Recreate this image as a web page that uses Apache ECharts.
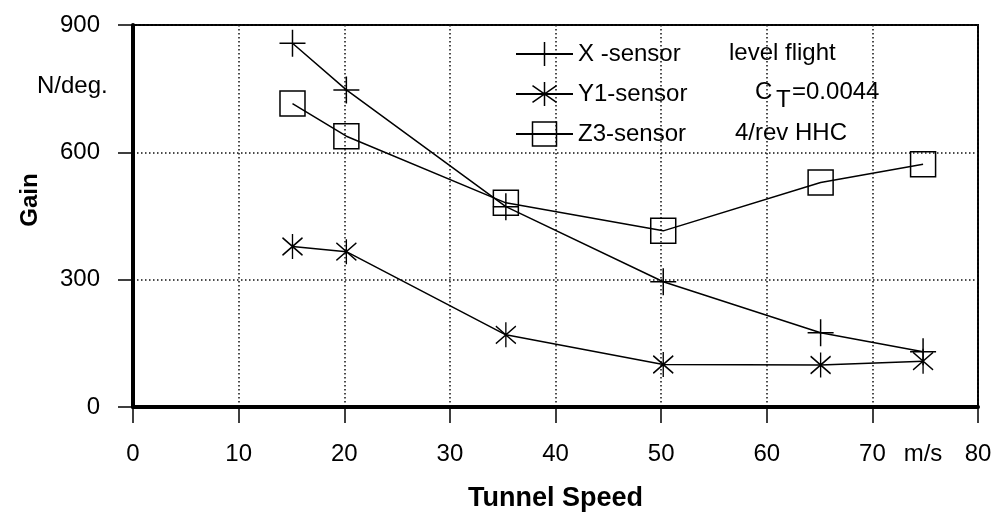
<!DOCTYPE html>
<html>
<head>
<meta charset="utf-8">
<script src="https://cdn.jsdelivr.net/npm/echarts@6/dist/echarts.min.js"></script>
<style>
  html, body { margin: 0; padding: 0; background: #fff; }
  #chart { width: 1000px; height: 517px; }
</style>
</head>
<body>
<div id="chart"></div>
<script>
// tunnel speed, m/s
const speeds = [15.1, 20.2, 35.3, 50.2, 65.1, 74.8]
// gain, N/deg.
const xSensor = [857, 747, 472, 295, 175, 130]
const y1Sensor = [378, 366, 170, 100, 99, 108]
const z3Sensor = [715, 638, 481, 415, 529, 572]

const xRange = [0, 80, 10]
const yRange = [0, 900, 300]

const FONT = '"Liberation Sans", Arial, sans-serif'

const PLUS = 'path://M0,-10L0,10M-10,0L10,0'
const STAR = 'path://M0,-10L0,10M-7,-7L7,7M-7,7L7,-7'

function pairs(values) {
  return speeds.map((s, i) => [s, values[i]])
}

function sensor(name, values, symbol, size) {
  return {
    name: name,
    type: 'line',
    data: pairs(values),
    symbol: symbol,
    symbolSize: size,
    lineStyle: { color: '#000', width: 1.5 },
    itemStyle: { color: 'rgba(0,0,0,0)', borderColor: '#000', borderWidth: 1.5 },
    emphasis: { disabled: true },
    animation: false
  }
}

var chart = echarts.init(document.getElementById('chart'))

var dotted = { color: '#111', width: 1.5, type: [1.5, 2.5] }

chart.setOption({
  backgroundColor: '#fff',
  textStyle: { fontFamily: FONT },
  grid: {
    left: 133, right: 22, top: 25, bottom: 110,
    show: true, borderColor: '#000', borderWidth: 2
  },
  legend: {
    orient: 'vertical',
    left: 510, top: 34,
    itemWidth: 57, itemHeight: 30, itemGap: 10,
    textStyle: { fontFamily: FONT, fontSize: 24, color: '#000', lineHeight: 30 },
    itemStyle: { borderColor: '#000', borderWidth: 1.5 },
    selectedMode: false,
    data: ['X -sensor', 'Y1-sensor', 'Z3-sensor']
  },
  xAxis: {
    type: 'value',
    min: xRange[0], max: xRange[1], interval: xRange[2],
    axisLine: { lineStyle: { color: '#000', width: 4 } },
    axisTick: { length: 16, lineStyle: { color: '#000', width: 1.5 } },
    axisLabel: { fontSize: 24, color: '#000', margin: 35, fontFamily: FONT },
    splitLine: { show: true, lineStyle: dotted },
    name: 'Tunnel Speed',
    nameLocation: 'middle',
    nameGap: 78,
    nameTextStyle: { fontSize: 27, fontWeight: 'bold', color: '#000', fontFamily: FONT }
  },
  yAxis: {
    type: 'value',
    min: yRange[0], max: yRange[1], interval: yRange[2],
    axisLine: { show: true, lineStyle: { color: '#000', width: 4 } },
    axisTick: { show: true, length: 15, lineStyle: { color: '#000', width: 1.5 } },
    axisLabel: { fontSize: 24, color: '#000', margin: 33, padding: [0, 0, 16, 0], fontFamily: FONT },
    splitLine: { show: true, lineStyle: dotted }
  },
  graphic: [
    { type: 'text', left: 37, top: 74, style: { text: 'N/deg.', font: '24px ' + FONT, fill: '#000' } },
    { type: 'text', x: 30, y: 200, rotation: Math.PI / 2,
      style: { text: 'Gain', font: 'bold 24px ' + FONT, fill: '#000', align: 'center', verticalAlign: 'middle' } },
    { type: 'text', x: 923, y: 454, style: { text: 'm/s', font: '24px ' + FONT, fill: '#000', align: 'center', verticalAlign: 'middle' } },
    { type: 'text', x: 729, y: 53, style: { text: 'level flight', font: '24px ' + FONT, fill: '#000', verticalAlign: 'middle' } },
    { type: 'text', x: 755, y: 92, style: { text: 'C', font: '24px ' + FONT, fill: '#000', verticalAlign: 'middle' } },
    { type: 'text', x: 776, y: 100, style: { text: 'T', font: '24px ' + FONT, fill: '#000', verticalAlign: 'middle' } },
    { type: 'text', x: 792, y: 92, style: { text: '=0.0044', font: '24px ' + FONT, fill: '#000', verticalAlign: 'middle' } },
    { type: 'text', x: 735, y: 133, style: { text: '4/rev HHC', font: '24px ' + FONT, fill: '#000', verticalAlign: 'middle' } }
  ],
  series: [
    sensor('X -sensor', xSensor, PLUS, [26, 27]),
    sensor('Y1-sensor', y1Sensor, STAR, [20, 25]),
    sensor('Z3-sensor', z3Sensor, 'rect', [25, 25])
  ]
})
</script>
</body>
</html>
